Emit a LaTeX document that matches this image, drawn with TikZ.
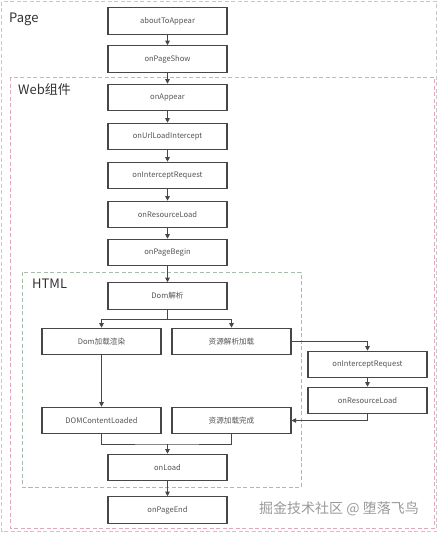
\documentclass[tikz,border=0pt]{standalone}
\usepackage{fontspec}
\setmainfont{Noto Sans CJK SC}
\usetikzlibrary{arrows.meta}
\definecolor{boxline}{HTML}{474747}
\definecolor{txt}{HTML}{555555}
\definecolor{pagedash}{HTML}{C8C8C8}
\definecolor{webdash}{HTML}{E2A8B6}
\definecolor{htmldash}{HTML}{A9BBAA}
\definecolor{wm}{HTML}{9A9A9A}
\tikzset{
  stepbox/.style={draw=boxline, line width=1.1pt, minimum width=119pt, minimum height=26.5pt, inner sep=0pt, font=\fontsize{7.6}{9}\selectfont, text=txt, fill=white},
  arr/.style={draw=boxline, line width=1pt, -{Triangle[length=4.5pt,width=4.5pt]}},
  ln/.style={draw=boxline, line width=1pt},
  grp/.style={dash pattern=on 4pt off 2.5pt, line width=0.8pt},
  grplabel/.style={anchor=west, inner sep=0pt, font=\fontsize{13}{15}\selectfont, text=black!80}
}
\begin{document}
\begin{tikzpicture}[x=1pt,y=-1pt]
\useasboundingbox (0,0) rectangle (438,533);
\fill[white] (0,0) rectangle (438,533);
% groups
\draw[grp, draw=pagedash] (1.5,1.5) rectangle (436.5,531.5);
\draw[grp, draw=webdash] (10.5,77) rectangle (434,528);
\draw[grp, draw=htmldash] (22.5,272) rectangle (301,487);
\node[grplabel] (lpage) at (9,19) {Page};
\node[grplabel] (lweb) at (18,90) {Web组件};
\node[grplabel] (lhtml) at (32,284) {HTML};
% nodes
\node[stepbox] (ata) at (167.5,21) {aboutToAppear};
\node[stepbox] (ops) at (167.5,59) {onPageShow};
\node[stepbox] (oap) at (167.5,97.5) {onAppear};
\node[stepbox] (oul) at (167.5,136.5) {onUrlLoadIntercept};
\node[stepbox] (oir) at (167.5,175.5) {onInterceptRequest};
\node[stepbox] (orl) at (167.5,214.5) {onResourceLoad};
\node[stepbox] (opb) at (167.5,252.5) {onPageBegin};
\node[stepbox] (dom) at (167.5,296) {Dom解析};
\node[stepbox] (render) at (101.5,341.5) {Dom加载渲染};
\node[stepbox] (res) at (231.5,341.5) {资源解析加载};
\node[stepbox] (ir2) at (367.5,364.5) {onInterceptRequest};
\node[stepbox] (rl2) at (367.5,400.5) {onResourceLoad};
\node[stepbox] (dcl) at (101.5,420.5) {DOMContentLoaded};
\node[stepbox] (done) at (231.5,420.5) {资源加载完成};
\node[stepbox] (onload) at (167.5,467.5) {onLoad};
\node[stepbox] (ope) at (167.5,510) {onPageEnd};
% connectors
\draw[arr] (ata) -- (ops);
\draw[arr] (ops) -- (oap);
\draw[arr] (oap) -- (oul);
\draw[arr] (oul) -- (oir);
\draw[arr] (oir) -- (orl);
\draw[arr] (orl) -- (opb);
\draw[arr] (opb) -- (dom);
\coordinate (split) at (167.5,319);
\draw[ln] (dom.south) -- (split);
\draw[arr] (split) -| (render.north);
\draw[arr] (split) -| (res.north);
\draw[arr] (res.east) -| (ir2.north);
\draw[arr] (ir2) -- (rl2);
\draw[arr] (rl2.south) |- (done.east);
\draw[arr] (render) -- (dcl);
\coordinate (join) at (167.5,444);
\draw[ln] (dcl.south) |- (join) -| (done.south);
\draw[arr] (join) -- (onload.north);
\draw[arr] (onload) -- (ope);
% watermark
\node[anchor=center, inner sep=0pt, font=\fontsize{14}{16}\selectfont, text=wm] (wmark) at (339,509) {掘金技术社区 @ 堕落飞鸟};
\end{tikzpicture}
\end{document}
